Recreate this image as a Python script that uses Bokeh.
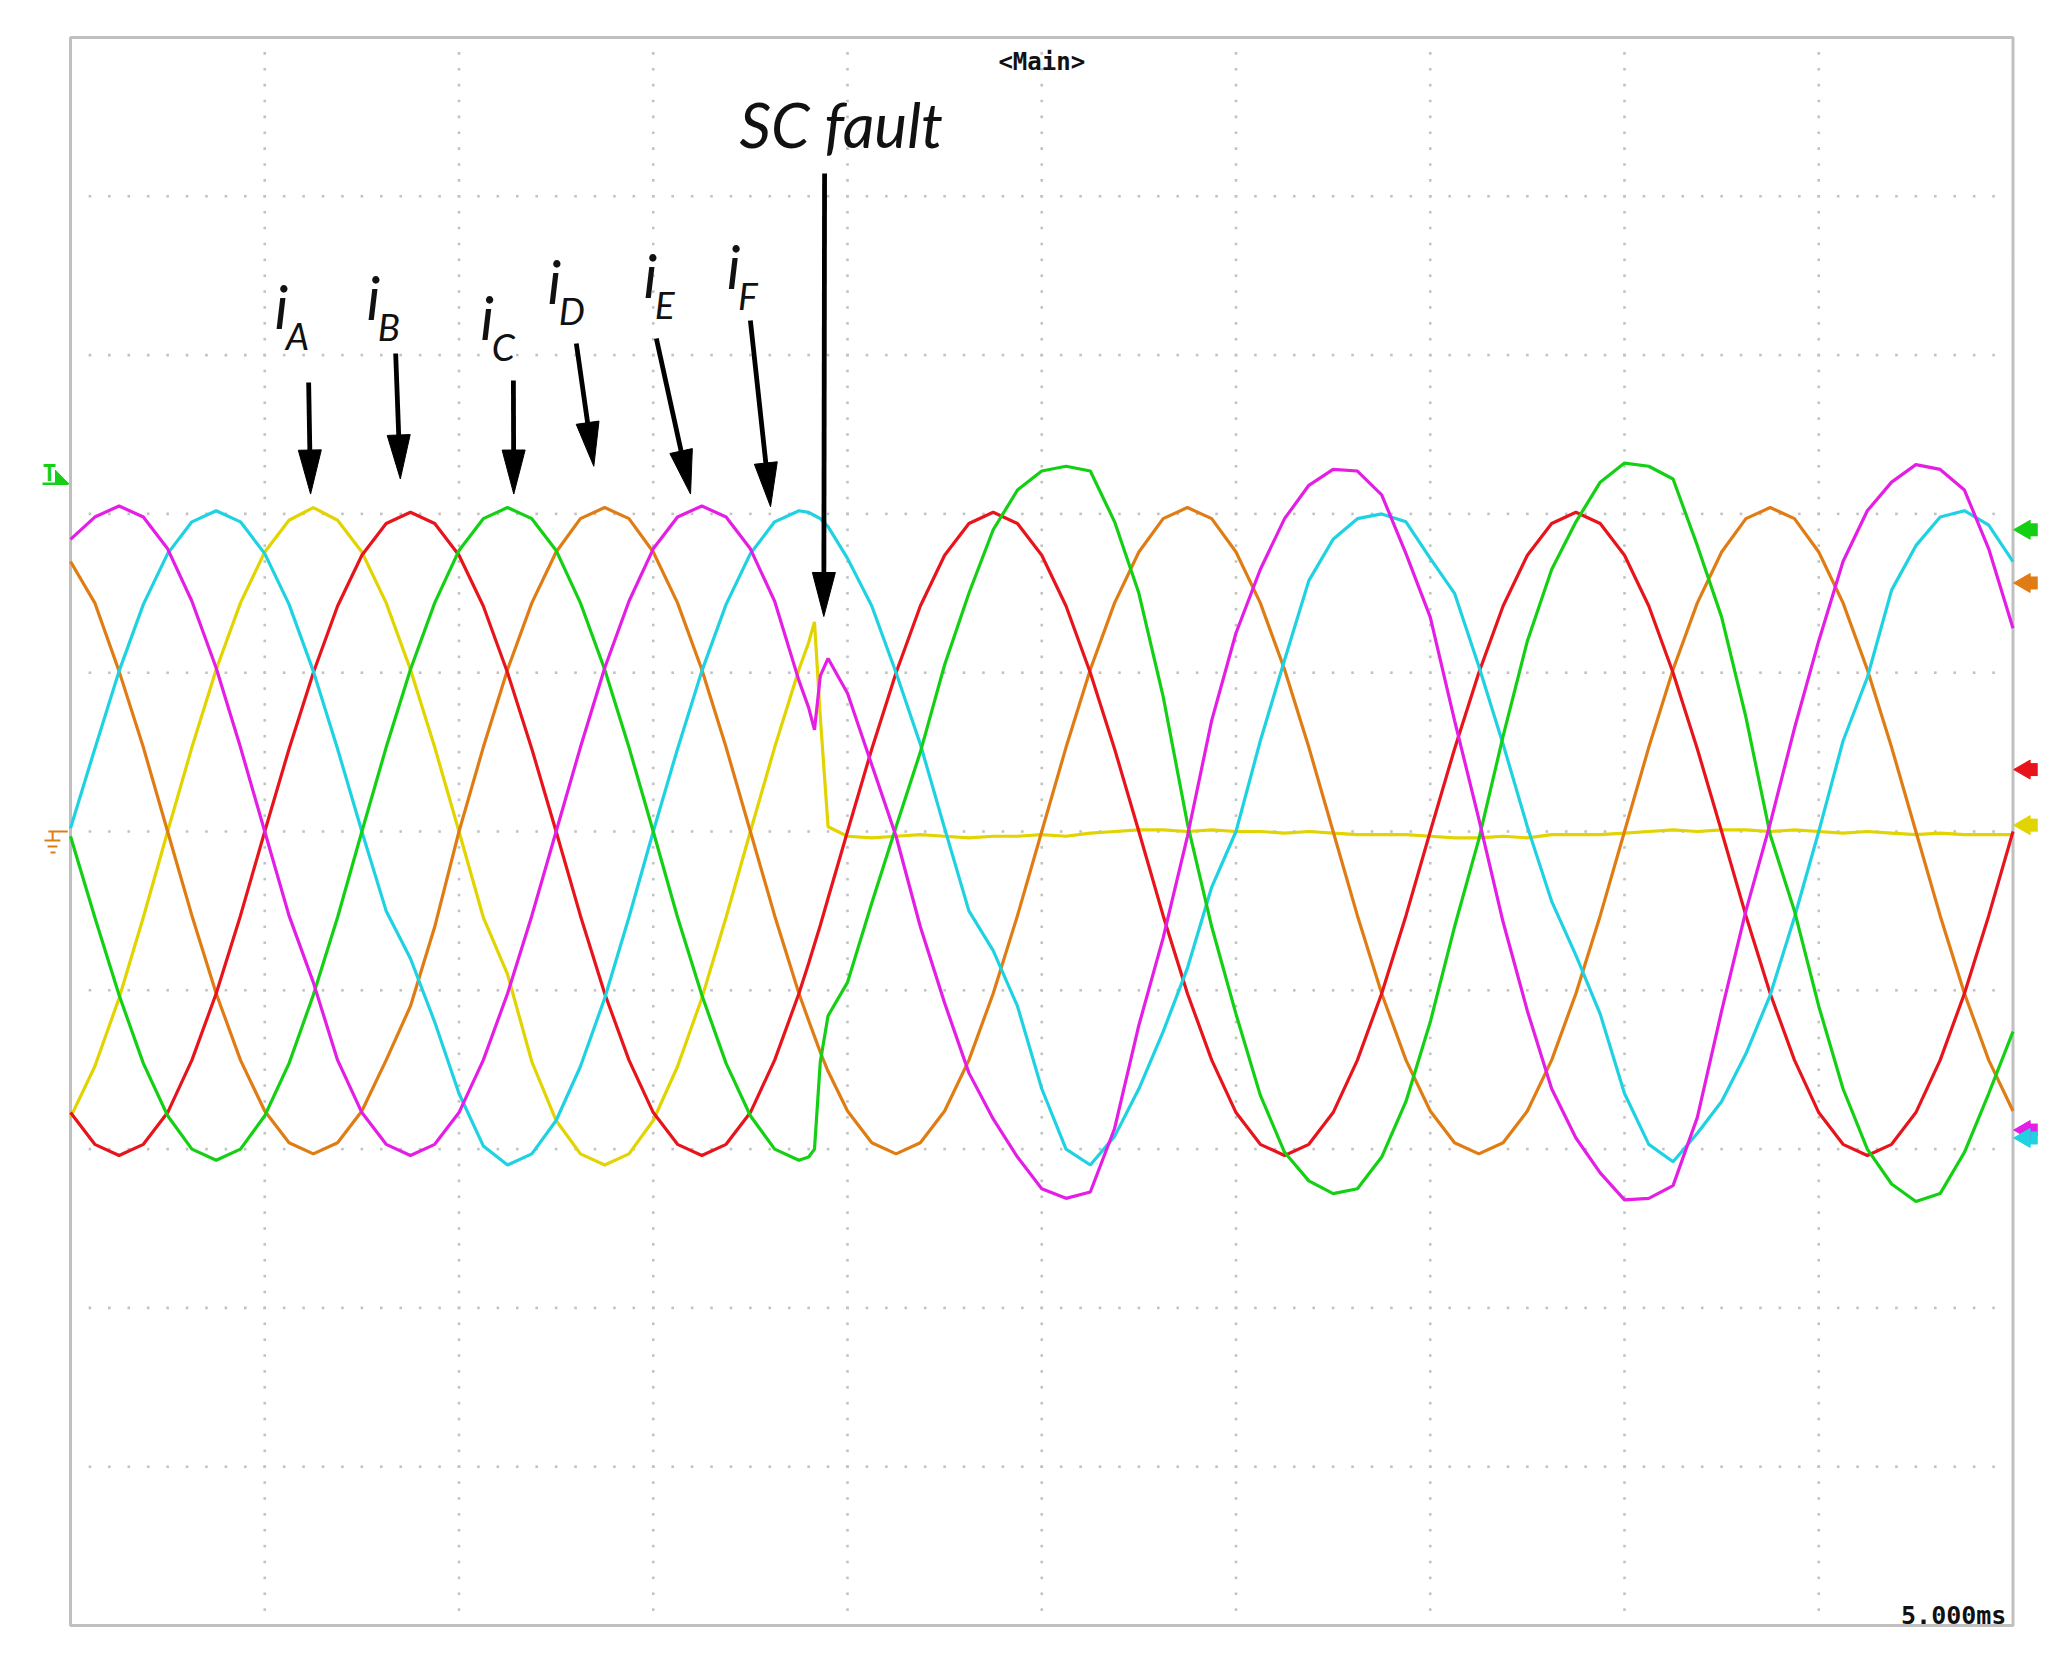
import numpy as np
from bokeh.plotting import figure
from bokeh.models import Range1d
from bokeh.core.properties import value
from bokeh.embed import file_html
from bokeh.resources import INLINE

# ---------------- data (time in ms, 5 ms/div; currents in divisions) ----------------
t_ms = [0.0, 0.625, 1.25, 1.875, 2.5, 3.125, 3.75, 4.375, 5.0, 5.625, 6.25, 6.875, 7.5, 8.125,
        8.75, 9.375, 10.0, 10.625, 11.25, 11.875, 12.5, 13.125, 13.75, 14.375, 15.0, 15.625,
        16.25, 16.875, 17.5, 18.125, 18.75,
        19.0, 19.15, 19.3, 19.5,
        20.0, 20.625, 21.25, 21.875, 22.5, 23.125, 23.75, 24.375, 25.0, 25.625, 26.25, 26.875,
        27.5, 28.125, 28.75, 29.375, 30.0, 30.625, 31.25, 31.875, 32.5, 33.125, 33.75, 34.375,
        35.0, 35.625, 36.25, 36.875, 37.5, 38.125, 38.75, 39.375, 40.0, 40.625, 41.25, 41.875,
        42.5, 43.125, 43.75, 44.375, 45.0, 45.625, 46.25, 46.875, 47.5, 48.125, 48.75, 49.375, 50.0]

i_A = [-1.80, -1.48, -1.05, -0.54, 0.0, 0.53, 1.02, 1.44, 1.76, 1.96, 2.04, 1.96, 1.76, 1.44,
       1.02, 0.53, 0.0, -0.54, -0.90, -1.45, -1.82, -2.03, -2.10, -2.03, -1.82, -1.48, -1.05,
       -0.54, 0.0, 0.53, 1.02,
       1.19, 1.32, 0.72, 0.03,
       -0.03, -0.04, -0.03, -0.02, -0.03, -0.04, -0.03, -0.03, -0.02, -0.03, -0.01, 0.0, 0.01,
       0.01, 0.0, 0.01, 0.0, 0.0, -0.01, 0.0, -0.01, -0.02, -0.02, -0.02, -0.03, -0.04, -0.04,
       -0.03, -0.04, -0.02, -0.02, -0.02, -0.01, 0.0, 0.01, 0.0, 0.01, 0.01, 0.0, 0.01, 0.0,
       -0.01, 0.0, -0.01, -0.02, -0.01, -0.02, -0.02, -0.02]

i_B = [-1.77, -1.97, -2.04, -1.97, -1.77, -1.44, -1.02, -0.53, 0.0, 0.52, 1.0, 1.42, 1.74, 1.94,
       2.01, 1.94, 1.74, 1.42, 1.0, 0.52, 0.0, -0.53, -1.02, -1.44, -1.77, -1.97, -2.04, -1.97,
       -1.77, -1.44, -1.02,
       -0.83, -0.71, -0.59, -0.42,
       0.0, 0.52, 1.0, 1.42, 1.74, 1.94, 2.01, 1.94, 1.74, 1.42, 1.0, 0.52, 0.0, -0.53, -1.02,
       -1.44, -1.77, -1.97, -2.04, -1.97, -1.77, -1.44, -1.02, -0.53, 0.0, 0.52, 1.0, 1.42, 1.74,
       1.94, 2.01, 1.94, 1.74, 1.42, 1.0, 0.52, 0.0, -0.53, -1.02, -1.44, -1.77, -1.97, -2.04,
       -1.97, -1.77, -1.44, -1.02, -0.53, 0.0]

i_C = [-0.03, -0.54, -1.03, -1.46, -1.79, -2.0, -2.07, -2.0, -1.79, -1.46, -1.03, -0.54, 0.0,
       0.53, 1.02, 1.44, 1.77, 1.97, 2.04, 1.97, 1.77, 1.44, 1.02, 0.53, 0.0, -0.54, -1.03,
       -1.46, -1.79, -2.0, -2.07,
       -2.05, -2.0, -1.45, -1.16,
       -0.95, -0.45, 0.03, 0.5, 1.05, 1.5, 1.9, 2.15, 2.27, 2.3, 2.27, 1.95, 1.5, 0.85, 0.05,
       -0.6, -1.15, -1.66, -2.02, -2.2, -2.28, -2.25, -2.05, -1.7, -1.2, -0.6, -0.05, 0.6, 1.2,
       1.65, 1.95, 2.2, 2.32, 2.3, 2.22, 1.8, 1.35, 0.72, -0.02, -0.5, -1.1, -1.62, -2.0, -2.22,
       -2.33, -2.28, -2.02, -1.65, -1.26]

i_D = [1.70, 1.44, 1.01, 0.53, 0.0, -0.53, -1.02, -1.44, -1.76, -1.96, -2.03, -1.96, -1.76,
       -1.44, -1.1, -0.6, 0.0, 0.53, 1.02, 1.44, 1.76, 1.97, 2.04, 1.97, 1.76, 1.44, 1.02, 0.53,
       0.0, -0.53, -1.02,
       -1.19, -1.29, -1.39, -1.51,
       -1.76, -1.96, -2.03, -1.96, -1.76, -1.44, -1.02, -0.53, 0.0, 0.53, 1.02, 1.44, 1.76, 1.97,
       2.04, 1.97, 1.76, 1.44, 1.02, 0.53, 0.0, -0.53, -1.02, -1.44, -1.76, -1.96, -2.03, -1.96,
       -1.76, -1.44, -1.02, -0.53, 0.0, 0.53, 1.02, 1.44, 1.76, 1.97, 2.04, 1.97, 1.76, 1.44,
       1.02, 0.53, 0.0, -0.53, -1.02, -1.44, -1.76]

i_E = [1.84, 1.98, 2.05, 1.98, 1.78, 1.45, 1.03, 0.53, 0.0, -0.53, -0.95, -1.44, -1.77, -1.97,
       -2.04, -1.97, -1.77, -1.44, -1.02, -0.53, 0.0, 0.53, 1.03, 1.45, 1.78, 1.98, 2.05, 1.98,
       1.78, 1.45, 0.95,
       0.78, 0.64, 0.98, 1.09,
       0.87, 0.42, -0.03, -0.6, -1.08, -1.52, -1.81, -2.05, -2.25, -2.31, -2.27, -1.87, -1.22,
       -0.67, -0.03, 0.7, 1.25, 1.65, 1.97, 2.18, 2.28, 2.27, 2.12, 1.75, 1.35, 0.7, 0.08, -0.57,
       -1.13, -1.62, -1.93, -2.15, -2.32, -2.31, -2.23, -1.8, -1.13, -0.5, 0.05, 0.65, 1.2, 1.7,
       2.02, 2.2, 2.31, 2.28, 2.15, 1.78, 1.28]

i_F = [0.02, 0.52, 1.01, 1.43, 1.75, 1.95, 2.02, 1.95, 1.75, 1.43, 1.01, 0.52, 0.0, -0.5, -0.8,
       -1.2, -1.65, -1.98, -2.1, -2.03, -1.82, -1.48, -1.05, -0.54, 0.0, 0.52, 1.01, 1.43, 1.75,
       1.95, 2.02,
       2.01, 1.99, 1.97, 1.92,
       1.72, 1.42, 1.0, 0.55, 0.02, -0.5, -0.75, -1.1, -1.62, -2.0, -2.1, -1.92, -1.62, -1.26,
       -0.86, -0.35, 0.0, 0.57, 1.08, 1.58, 1.84, 1.97, 2.0, 1.95, 1.72, 1.5, 1.04, 0.55, 0.03,
       -0.44, -0.78, -1.15, -1.65, -1.97, -2.08, -1.9, -1.7, -1.4, -1.03, -0.54, 0.0, 0.57, 0.97,
       1.52, 1.8, 1.98, 2.02, 1.93, 1.70]

series_names = ["A", "B", "C", "D", "E", "F"]
series_colors = ["#e2d400", "#e8141c", "#14d014", "#e07c14", "#e41ee4", "#1ed2e2"]

# channel level markers at the right edge (divisions)
marker_levels = [1.90, 1.565, 0.39, 0.04, -1.88, -1.93]
marker_colors = ["#14d014", "#e07c14", "#e8141c", "#e2d400", "#e41ee4", "#1ed2e2"]
trigger_level = 2.19

# annotation positions: label baseline anchor (ms, div) and arrow start / tip
label_x = [5.25, 7.62, 10.55, 12.28, 14.75, 16.89]
label_y = [3.174, 3.23, 3.105, 3.33, 3.37, 3.426]
arrow_x0 = [6.13, 8.37, 11.40, 13.02, 15.08, 17.50]
arrow_y0 = [2.827, 3.01, 2.84, 3.073, 3.105, 3.218]
arrow_x1 = [6.18, 8.49, 11.41, 13.47, 15.96, 18.02]
arrow_y1 = [2.125, 2.22, 2.125, 2.30, 2.125, 2.045]
fault_text_xy = (17.22, 4.33)
fault_arrow = (19.41, 4.144, 19.39, 1.354)

# ---------------- geometry ----------------
W, H = 2048, 1639
FRAME_L, FRAME_T = 70, 37
PX_X = 194.25 / 5.0      # px per ms
PX_Y = 158.8             # px per division


def base_fix(font_px):
    # lift so that the glyph baseline sits on the given y
    return 0.34 * font_px / PX_Y


p = figure(width=W, height=H, output_backend="svg", toolbar_location=None, title=None,
           x_axis_location=None, y_axis_location=None,
           x_range=Range1d(-FRAME_L / PX_X, (W - FRAME_L) / PX_X),
           y_range=Range1d(5 - (H - FRAME_T) / PX_Y, 5 + FRAME_T / PX_Y))
p.min_border_left = p.min_border_right = p.min_border_top = p.min_border_bottom = 0
p.outline_line_color = None
p.grid.visible = False
p.background_fill_color = "white"
p.border_fill_color = "white"

# graticule dots
gx, gy = [], []
for xv in range(5, 50, 5):
    for j in range(1, 100):
        gx.append(xv); gy.append(-5 + 0.1 * j)
for yv in range(-4, 5):
    for j in range(1, 100):
        gx.append(0.5 * j); gy.append(yv)
p.scatter(gx, gy, marker="square", size=2.6, fill_color="#c2c2c2", line_color=None)

# frame
p.quad(left=[0], right=[50], bottom=[-5], top=[5], fill_color=None,
       line_color="#c0c0c0", line_width=3)

# traces
data = {"A": i_A, "B": i_B, "C": i_C, "D": i_D, "E": i_E, "F": i_F}
for name in ["A", "D", "B", "F", "C", "E"]:
    c = series_colors[series_names.index(name)]
    p.line(t_ms, data[name], line_color=c, line_width=3.2)

# right-side channel markers (arrow-like tags pointing at the frame)
p.scatter([50.47] * len(marker_levels), marker_levels, marker="square", size=13,
          fill_color=marker_colors, line_color=None)
p.scatter([50.30] * len(marker_levels), marker_levels, marker="triangle", angle=np.pi / 2,
          size=19, fill_color=marker_colors, line_color=marker_colors)

# trigger marker (green)
tx0, tx1, txl = -0.386, -0.05, -0.72
p.patch([tx0, tx0, tx1], [trigger_level + 0.085, trigger_level, trigger_level],
        fill_color="#14d014", line_color="#14d014")
p.segment([txl], [trigger_level], [tx1], [trigger_level], line_color="#14d014", line_width=2.5)
p.text([txl], [trigger_level + 0.02 + base_fix(23)], text=["T"],
       text_font=value("DejaVu Sans Mono"), text_font_size="23px", text_font_style="bold",
       text_color="#14d014", text_baseline="alphabetic", text_align="left")

# ground marker (orange) at 0 div
gc = "#e07c14"
p.segment([-0.57, -0.46, -0.67, -0.59, -0.515],
          [0.0, 0.0, -0.057, -0.094, -0.132],
          [-0.07, -0.46, -0.26, -0.335, -0.386],
          [0.0, -0.057, -0.057, -0.094, -0.132], line_color=gc, line_width=2)

# texts
p.text([25.0], [4.843], text=["<Main>"], text_font=value("DejaVu Sans Mono"),
       text_font_size="24px", text_font_style="bold", text_color="#111111",
       text_align="center", text_baseline="middle")
p.text([49.83], [-4.99 + base_fix(25)], text=["5.000ms"], text_font=value("DejaVu Sans Mono"),
       text_font_size="25px", text_font_style="bold", text_color="#111111",
       text_align="right", text_baseline="alphabetic")


def arrow_geom(x0, y0, x1, y1, L=44.0, hw=11.5):
    X0, Y0, X1, Y1 = x0 * PX_X, y0 * PX_Y, x1 * PX_X, y1 * PX_Y
    dx, dy = X1 - X0, Y1 - Y0
    n = (dx * dx + dy * dy) ** 0.5
    ux, uy = dx / n, dy / n
    bx, by = X1 - L * ux, Y1 - L * uy
    px, py = -uy, ux
    hx = [X1 / PX_X, (bx + hw * px) / PX_X, (bx - hw * px) / PX_X]
    hy = [Y1 / PX_Y, (by + hw * py) / PX_Y, (by - hw * py) / PX_Y]
    return (x0, y0, (bx + 2 * ux) / PX_X, (by + 2 * uy) / PX_Y), hx, hy


shafts = []
heads_x, heads_y = [], []
for a in list(zip(arrow_x0, arrow_y0, arrow_x1, arrow_y1)) + [fault_arrow]:
    s, hx, hy = arrow_geom(*a)
    shafts.append(s)
    heads_x.append(hx); heads_y.append(hy)
p.segment([s[0] for s in shafts], [s[1] for s in shafts], [s[2] for s in shafts],
          [s[3] for s in shafts], line_color="black", line_width=4.8)
p.patches(heads_x, heads_y, fill_color="black", line_color="black", line_width=1)

lab_font = value("Lato")
p.text(label_x, [y + 0.36 * 60 / PX_Y for y in label_y], text=["i"] * 6, text_font=lab_font,
       text_font_size="60px", text_font_style="italic", text_color="#111111",
       text_baseline="alphabetic")
p.text([x + 0.29 for x in label_x], [y - 0.13 + base_fix(37) for y in label_y],
       text=series_names, text_font=lab_font, text_font_size="37px",
       text_font_style="italic", text_color="#111111", text_baseline="alphabetic")
p.text([fault_text_xy[0]], [fault_text_xy[1] + base_fix(62) - 0.01], text=["SC fault"],
       text_font=lab_font, text_font_size="62px", text_font_style="italic",
       text_color="#111111", text_baseline="alphabetic")

open("out.html", "w").write(file_html(p, INLINE))
